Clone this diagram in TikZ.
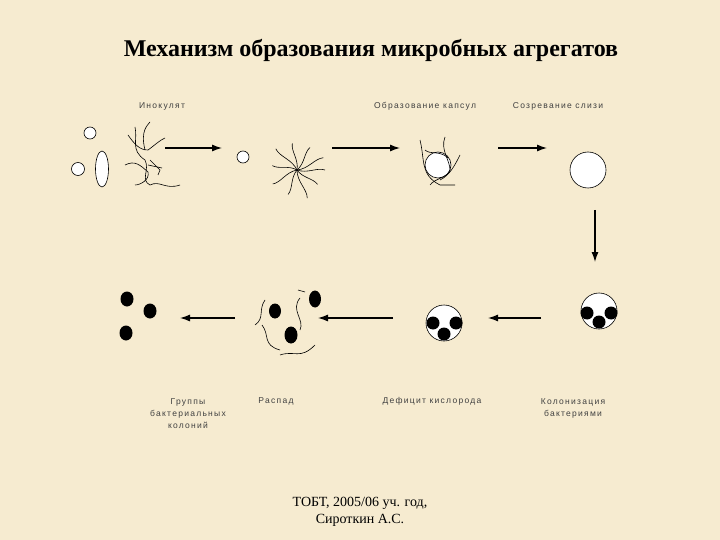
\documentclass[tikz,border=0pt]{standalone}
\usepackage{fontspec}
\setmainfont{Liberation Serif}
\newfontfamily\lab{Liberation Sans}[LetterSpace=15]
\usetikzlibrary{arrows.meta}
\begin{document}
\begin{tikzpicture}[x=1pt,y=-1pt,
  arr/.style={-{Latex[length=10pt,width=7pt]},line width=1.2pt},
  cell/.style={draw,line width=0.6pt,fill=white},
  fib/.style={line width=0.6pt},
  lbl/.style={font=\lab\fontsize{8.5}{12}\selectfont,align=center,text=black!75}]
\fill[fill={rgb,255:red,246;green,235;blue,208}] (0,0) rectangle (720,540);
\useasboundingbox (0,0) rectangle (720,540);
\node (title) at (371,50) {\bfseries\fontsize{24}{27}\selectfont Механизм образования микробных агрегатов};
\node[lbl] (l1) at (162,106) {Инокулят};
\node[lbl] (l2) at (425,106) {Образование капсул};
\node[lbl] (l3) at (558,106) {Созревание слизи};
% stage 1
\draw[cell] (90,133) circle (6);
\draw[cell] (78,169) circle (6.5);
\draw[cell] (102,169) ellipse (6.5 and 18);
\draw[fib] (135,127) .. controls (138,140) and (130,150) .. (145,160) .. controls (150,170) and (140,180) .. (150,185) .. controls (160,180) and (165,190) .. (180,185);
\draw[fib] (128,135) .. controls (135,145) and (140,150) .. (148,150) .. controls (155,145) and (160,140) .. (165,138);
\draw[fib] (125,165) .. controls (135,160) and (140,165) .. (148,172) .. controls (150,180) and (140,185) .. (135,185);
\draw[fib] (150,160) -- (160,170) -- (158,175); \draw[fib] (145,150) .. controls (140,130) and (148,125) .. (150,122);
\draw[fib] (148,165) -- (162,168);
\draw[arr] (165,148) -- (222,148);
% stage 2
\draw[cell] (243,157) circle (6);
\foreach \a/\r in {0/28,35/25,70/30,110/26,150/28,190/25,225/30,260/27,300/26,335/29}{
  \draw[fib] (297,170) .. controls +(\a+20:\r*0.4) and +(\a+200:\r*0.3) .. +(\a:\r);}
\draw[arr] (332,148) -- (400,148);
% stage 3
\draw[cell] (438,165) circle (13);
\draw[fib] (420,140) .. controls (425,160) and (420,175) .. (440,185) -- (455,185);
\draw[fib] (445,137) .. controls (440,150) and (450,160) .. (450,170) .. controls (448,178) and (435,178) .. (430,185);
\draw[fib] (460,155) .. controls (455,165) and (450,175) .. (440,180);
\draw[fib] (425,150) .. controls (430,155) and (440,150) .. (448,158);
\draw[arr] (498,148) -- (547,148);
% stage 4
\draw[cell] (588,170) circle (18);
\draw[arr] (595,210) -- (595,262);
% bottom row
\draw[cell] (599,311) circle (18);
\fill (587,313) circle (6.5); \fill (611,313) circle (6.5); \fill (599,322) circle (6.5);
\draw[arr] (541,318) -- (488,318);
\draw[cell] (444,323) circle (18);
\fill (433,323) circle (6.5); \fill (456,323) circle (6.5); \fill (444,334) circle (6.5);
\draw[arr] (393,318) -- (318,318);
\fill (315,299) ellipse (6 and 8.5); \fill (275,311) ellipse (6 and 7.5); \fill (291,335) ellipse (6.5 and 8.5);
\draw[fib] (265,300) .. controls (258,310) and (265,318) .. (255,325);
\draw[fib] (262,325) .. controls (270,335) and (262,345) .. (280,350);
\draw[fib] (280,355) .. controls (295,350) and (300,360) .. (315,345);
\draw[fib] (300,298) .. controls (290,310) and (305,320) .. (300,330);
\draw[fib] (298,290) -- (305,292);
\draw[arr] (235,318) -- (180,318);
\fill (127,299) ellipse (6.5 and 7.5); \fill (150,311) ellipse (6.5 and 7.5); \fill (126,333) ellipse (6.5 and 7.5);
\node[lbl] (b1) at (188,414) {Группы\\бактериальных\\колоний};
\node[lbl] (b2) at (276,401) {Распад};
\node[lbl] (b3) at (432,401) {Дефицит кислорода};
\node[lbl] (b4) at (573,408) {Колонизация\\бактериями};
\node[align=center,font=\fontsize{14}{17}\selectfont] (foot) at (360,512) {ТОБТ, 2005/06 уч. год,\\Сироткин А.С.};
\end{tikzpicture}
\end{document}
